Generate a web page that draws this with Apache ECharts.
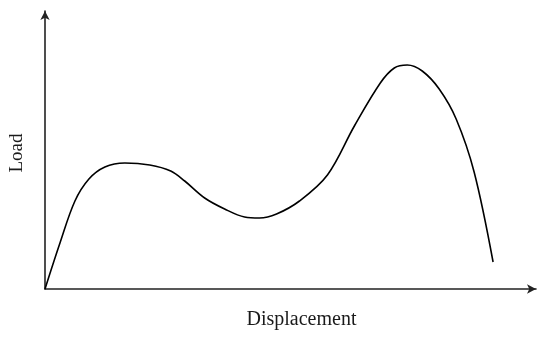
<!DOCTYPE html>
<html>
<head>
<meta charset="utf-8">
<script src="https://cdn.jsdelivr.net/npm/echarts@6/dist/echarts.min.js"></script>
<style>
  html, body { margin: 0; padding: 0; background: #fff; }
  #chart { width: 550px; height: 338px; }
</style>
</head>
<body>
<div id="chart"></div>
<script>
// schematic load–displacement curve (arbitrary units)
const displacement = [0, 15, 30, 44, 60, 80, 105, 126, 140, 160, 180, 200, 215, 232, 255, 283, 310, 336, 350, 363, 378, 395, 412, 430, 449]
const load = [0, 46, 88, 110, 122, 126, 124, 118, 108, 91, 80, 72, 71, 75, 88, 114, 163, 206, 221, 224, 218, 200, 170, 117, 27]

const xName = 'Displacement'
const yName = 'Load'

const points = displacement.map((d, i) => [d, load[i]])

const myChart = echarts.init(document.getElementById('chart'))

const axisBase = {
  type: 'value',
  min: 0,
  axisTick: { show: false },
  axisLabel: { show: false },
  splitLine: { show: false },
  nameLocation: 'middle',
  nameTextStyle: {
    fontFamily: 'Liberation Serif',
    fontSize: 20,
    color: '#1a1a1a',
  },
  axisLine: {
    show: true,
    symbol: ['none', 'arrow'],
    symbolSize: [7, 9],
    lineStyle: { color: '#222', width: 1.6 },
  },
}

const option = {
  animation: false,
  backgroundColor: '#fff',
  grid: { left: 44, right: 14, top: 11, bottom: 49 },
  xAxis: {
    ...axisBase,
    max: 492,
    name: xName,
    nameGap: 21,
    nameTextStyle: { ...axisBase.nameTextStyle, padding: [0, 0, 0, 22] },
  },
  yAxis: {
    ...axisBase,
    max: 278,
    name: yName,
    nameGap: 18,
    nameTextStyle: { ...axisBase.nameTextStyle, fontSize: 19, padding: [0, 6, 0, 0] },
  },
  series: [
    {
      type: 'line',
      data: points,
      smooth: 0.35,
      showSymbol: false,
      lineStyle: { color: '#000', width: 1.6 },
    },
  ],
}

myChart.setOption(option)
</script>
</body>
</html>
